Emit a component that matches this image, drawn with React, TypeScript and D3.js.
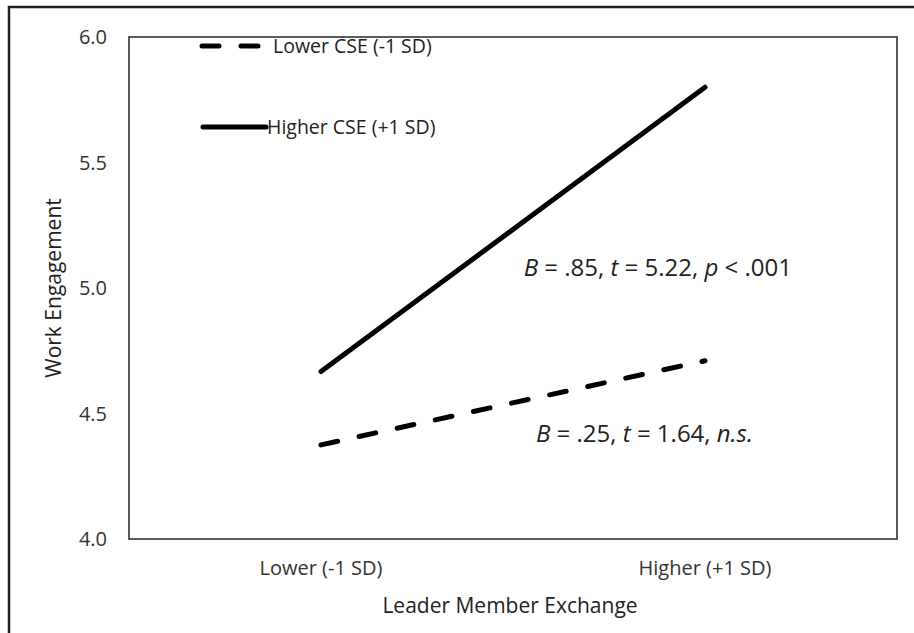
import React from "react";
import * as d3 from "d3";

const categories = ["Lower (-1 SD)", "Higher (+1 SD)"];
const seriesNames = ["Lower CSE (-1 SD)", "Higher CSE (+1 SD)"];
const lowerCSE = [4.375, 4.71];
const higherCSE = [4.667, 5.8];
const yTicks = [4.0, 4.5, 5.0, 5.5, 6.0];
const yTitle = "Work Engagement";
const xTitle = "Leader Member Exchange";

const W = 914;
const H = 633;
const plot = { left: 129, right: 897, top: 37, bottom: 539 };
const FONT = "'Open Sans', sans-serif";
const DASH = "17,22";

export default function App() {
  const x = d3
    .scalePoint<string>()
    .domain(categories)
    .range([plot.left, plot.right])
    .padding(0.5);
  const y = d3.scaleLinear().domain([4, 6]).range([plot.bottom, plot.top]);
  const line = d3
    .line<number>()
    .x((_, i) => x(categories[i]) as number)
    .y((d) => y(d));

  return (
    <svg
      width={W}
      height={H}
      style={{ position: "absolute", left: 0, top: 0, background: "#fff" }}
      fontFamily={FONT}
    >
      <rect x={0} y={0} width={W} height={H} fill="#fff" />
      {/* outer frame */}
      <rect x={9} y={7} width={W + 20} height={H + 20} fill="none" stroke="#222" strokeWidth={2.5} />
      {/* plot frame */}
      <rect
        x={plot.left}
        y={plot.top}
        width={plot.right - plot.left}
        height={plot.bottom - plot.top}
        fill="none"
        stroke="#333"
        strokeWidth={1.6}
      />
      {/* y ticks */}
      {yTicks.map((t) => (
        <text key={t} x={107} y={y(t) + 7} textAnchor="end" fontSize={20} fill="#333">
          {d3.format(".1f")(t)}
        </text>
      ))}
      {/* x ticks */}
      {categories.map((c) => (
        <text key={c} x={x(c)} y={575} textAnchor="middle" fontSize={20} fill="#333">
          {c}
        </text>
      ))}
      {/* titles */}
      <text x={510} y={613} textAnchor="middle" fontSize={21} fill="#222">
        {xTitle}
      </text>
      <text
        transform={`translate(61, ${(plot.top + plot.bottom) / 2}) rotate(-90)`}
        textAnchor="middle"
        fontSize={21}
        fill="#222"
      >
        {yTitle}
      </text>
      {/* series */}
      <path d={line(higherCSE) || ""} fill="none" stroke="#000" strokeWidth={5} strokeLinecap="round" />
      <path
        d={line(lowerCSE) || ""}
        fill="none"
        stroke="#000"
        strokeWidth={5}
        strokeLinecap="round"
        strokeDasharray={DASH}
      />
      {/* legend */}
      <line x1={202} x2={260} y1={46} y2={46} stroke="#000" strokeWidth={5} strokeLinecap="round" strokeDasharray={DASH} />
      <text x={273} y={53} fontSize={19.5} fill="#222">
        {seriesNames[0]}
      </text>
      <line x1={203} x2={266} y1={127} y2={127} stroke="#000" strokeWidth={5} strokeLinecap="round" />
      <text x={267} y={134} fontSize={19.5} fill="#222">
        {seriesNames[1]}
      </text>
      {/* annotations */}
      <text x={792} y={276} textAnchor="end" fontSize={24} fill="#222">
        <tspan fontStyle="italic">B</tspan> = .85, <tspan fontStyle="italic">t</tspan> = 5.22,{" "}
        <tspan fontStyle="italic">p</tspan> &lt; .001
      </text>
      <text x={753} y={442} textAnchor="end" fontSize={24} fill="#222">
        <tspan fontStyle="italic">B</tspan> = .25, <tspan fontStyle="italic">t</tspan> = 1.64,{" "}
        <tspan fontStyle="italic">n.s.</tspan>
      </text>
    </svg>
  );
}
